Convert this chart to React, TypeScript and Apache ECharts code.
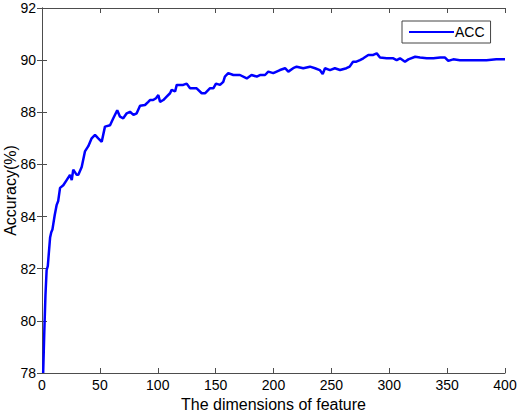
import React, { useEffect, useRef } from "react";
import * as echarts from "echarts";

const dims = [1, 2, 3, 4, 5, 7, 8, 9, 11, 12.7, 14, 15.6, 18.4, 21.3, 24.2, 25.7, 27, 30, 31.4, 34.3, 37.1, 40, 42.9, 45.8, 48.6, 51.6, 54.4, 58.8, 61.6, 65, 67.4, 70.2, 73.2, 76, 79, 81.8, 84.7, 89, 91.8, 93.3, 96, 98.5, 100.5, 102, 104.8, 107.7, 110.6, 112, 115, 116.4, 122, 125, 127.9, 133.6, 138, 140.8, 145, 148, 150.3, 153.8, 156.6, 158, 160.9, 165.3, 171, 176.9, 181, 185.5, 188.3, 192.7, 195.5, 199.8, 205.6, 210, 212.8, 217, 220, 225.7, 231.5, 235.9, 240, 242.5, 244.5, 248.8, 253, 257.5, 263, 265.8, 268.7, 271.6, 274.7, 277.6, 281.9, 286.2, 289.2, 292, 297.8, 303.5, 306.4, 309.3, 313.6, 316.5, 322.4, 326.6, 332.4, 338.1, 344, 348.2, 351, 355.3, 361, 375.6, 384, 392.5, 400];
const accuracy = [78.0, 79.6, 81.0, 81.95, 82.1, 83.2, 83.4, 83.5, 84.06, 84.45, 84.6, 85.1, 85.2, 85.4, 85.6, 85.4, 85.8, 85.6, 85.6, 85.9, 86.5, 86.7, 87.0, 87.13, 87.0, 86.87, 87.45, 87.5, 87.77, 88.08, 87.83, 87.77, 87.96, 88.02, 87.9, 87.96, 88.25, 88.28, 88.4, 88.47, 88.47, 88.54, 88.66, 88.4, 88.47, 88.6, 88.73, 88.86, 88.8, 89.05, 89.05, 89.1, 88.92, 88.92, 88.73, 88.73, 88.92, 88.92, 89.1, 89.05, 89.17, 89.37, 89.5, 89.43, 89.43, 89.3, 89.43, 89.37, 89.43, 89.43, 89.56, 89.5, 89.62, 89.69, 89.56, 89.69, 89.75, 89.69, 89.75, 89.69, 89.62, 89.47, 89.69, 89.62, 89.69, 89.62, 89.69, 89.75, 89.94, 89.94, 90.0, 90.07, 90.2, 90.2, 90.26, 90.1, 90.07, 90.07, 90.0, 90.07, 89.94, 90.03, 90.13, 90.1, 90.07, 90.07, 90.1, 90.1, 89.97, 90.03, 90.0, 90.0, 90.0, 90.03, 90.03];

const xMin = 0, xMax = 400, xStep = 50;
const yMin = 78, yMax = 92, yStep = 2;

const FONT = "'Liberation Sans', Arial, sans-serif";
const AXIS = "#4d4d4d";

export default function App() {
  const ref = useRef<HTMLDivElement>(null);
  useEffect(() => {
    if (!ref.current) return;
    const chart = echarts.init(ref.current, null, { renderer: "svg" });
    const points = dims.map((d, i) => [d, accuracy[i]]);
    const tickBase = {
      axisLine: { show: true, lineStyle: { color: AXIS, width: 1 } },
      axisTick: { show: true, inside: true, length: 5, lineStyle: { color: AXIS } },
      splitLine: { show: false },
    };
    chart.setOption({
      animation: false,
      backgroundColor: "#fff",
      textStyle: { fontFamily: FONT },
      grid: { left: 42, right: 14, top: 8, bottom: 41, containLabel: false, outerBoundsMode: "none" },
      legend: {
        left: 402,
        top: 21,
        data: [{ name: "ACC", icon: "rect" }],
        itemWidth: 45,
        itemHeight: 2,
        padding: [4, 6, 4, 7],
        borderColor: "#444",
        borderWidth: 1,
        borderRadius: 0,
        backgroundColor: "#fff",
        textStyle: { fontFamily: FONT, fontSize: 14, color: "#000", padding: [0, 0, 0, -4] },
      },
      xAxis: [
        {
          type: "value",
          min: xMin,
          max: xMax,
          interval: xStep,
          name: "The dimensions of feature",
          nameLocation: "middle",
          nameGap: 21,
          nameTextStyle: { fontFamily: FONT, fontSize: 16, color: "#000" },
          axisLabel: { fontFamily: FONT, fontSize: 14, color: "#000", margin: 5 },
          ...tickBase,
        },
        {
          type: "value",
          position: "top",
          min: xMin,
          max: xMax,
          interval: xStep,
          axisLabel: { show: false },
          ...tickBase,
        },
      ],
      yAxis: [
        {
          type: "value",
          min: yMin,
          max: yMax,
          interval: yStep,
          name: "Accuracy(%)",
          nameLocation: "middle",
          nameGap: 24,
          nameMoveOverlap: false,
          nameTextStyle: { fontFamily: FONT, fontSize: 16, color: "#000" },
          axisLabel: { fontFamily: FONT, fontSize: 14, color: "#000", margin: 6 },
          ...tickBase,
        },
        {
          type: "value",
          position: "right",
          min: yMin,
          max: yMax,
          interval: yStep,
          axisLabel: { show: false },
          ...tickBase,
        },
      ],
      series: [
        {
          name: "ACC",
          type: "line",
          data: points,
          symbol: "none",
          showSymbol: false,
          lineStyle: { color: "#0000ff", width: 2.5 },
          itemStyle: { color: "#0000ff" },
        },
      ],
    });
    return () => chart.dispose();
  }, []);
  return <div ref={ref} style={{ width: 519, height: 414, position: "absolute", left: 0, top: 0 }} />;
}
